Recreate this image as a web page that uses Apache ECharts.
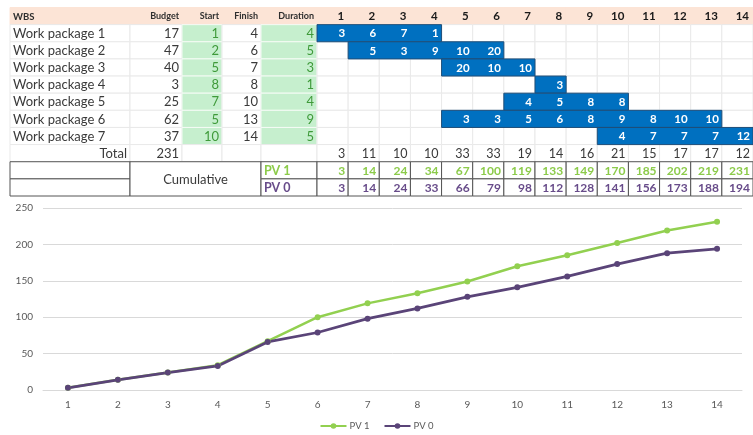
<!DOCTYPE html>
<html><head><meta charset="utf-8">
<script src="https://cdn.jsdelivr.net/npm/echarts@6/dist/echarts.min.js"></script>
<style>html,body{margin:0;padding:0;background:#fff}#c{width:753px;height:435px}</style>
</head><body><div id="c"></div>
<script>
// ---------- DATA ----------
const headerLabels = ['WBS', 'Budget', 'Start', 'Finish', 'Duration'];
const wbsNames = ['Work package 1', 'Work package 2', 'Work package 3', 'Work package 4', 'Work package 5', 'Work package 6', 'Work package 7'];
const budgets = [17, 47, 40, 3, 25, 62, 37];
const starts = [1, 2, 5, 8, 7, 5, 10];
const finishes = [4, 6, 7, 8, 10, 13, 14];
const durations = [4, 5, 3, 1, 4, 9, 5];
const budgetTotal = 231;
const periods = ['1', '2', '3', '4', '5', '6', '7', '8', '9', '10', '11', '12', '13', '14'];
const wpValues = [
  [3, 6, 7, 1],
  [5, 3, 9, 10, 20],
  [20, 10, 10],
  [3],
  [4, 5, 8, 8],
  [3, 3, 5, 6, 8, 9, 8, 10, 10],
  [4, 7, 7, 7, 12]
];
const periodTotals = [3, 11, 10, 10, 33, 33, 19, 14, 16, 21, 15, 17, 17, 12];
const pv1 = [3, 14, 24, 34, 67, 100, 119, 133, 149, 170, 185, 202, 219, 231];
const pv0 = [3, 14, 24, 33, 66, 79, 98, 112, 128, 141, 156, 173, 188, 194];
const cumulativeLabel = 'Cumulative';
const totalLabel = 'Total';
const seriesNames = ['PV 1', 'PV 0'];
const yTicks = { min: 0, max: 250, interval: 50 };

// ---------- LAYOUT / STYLE ----------
const FONT = 'Lato, "Liberation Sans", sans-serif';
const COL_EDGES = [0, 120, 172, 212, 251, 307]; // left table column boundaries (layout units)
const rowKeys = ['hdr', 'wp1', 'wp2', 'wp3', 'wp4', 'wp5', 'wp6', 'wp7', 'total', 'pv1', 'pv0'];
const C = {
  peach: '#FCE4D6', hdrText: '#2E2E2E', body: '#3A3A3A', grid: '#E9E9E9',
  greenBg: '#C6EFCE', greenText: '#3F9A3A', blue: '#0070C0', blueEdge: '#1F4E79',
  pv1: '#8CCB4A', pv0: '#684C8A', border: '#555555', line1: '#92D050', line0: '#5A4478', axis: '#595959'
};

// ---------- left table cells ----------
const leftCells = [];
headerLabels.forEach((h, c) => leftCells.push({ col: c, row: 0, text: h, k: 'hdr', align: c === 0 ? 'left' : 'right', size: c === 0 ? 9.5 : 9 }));
wbsNames.forEach((n, i) => {
  const r = i + 1;
  leftCells.push({ col: 0, row: r, text: n, k: 'body', align: 'left' });
  leftCells.push({ col: 1, row: r, text: String(budgets[i]), k: 'body', align: 'right' });
  leftCells.push({ col: 2, row: r, text: String(starts[i]), k: 'green', align: 'right' });
  leftCells.push({ col: 3, row: r, text: String(finishes[i]), k: 'body', align: 'right' });
  leftCells.push({ col: 4, row: r, text: String(durations[i]), k: 'green', align: 'right' });
});
leftCells.push({ col: 0, row: 8, text: totalLabel, k: 'body', align: 'right' });
leftCells.push({ col: 1, row: 8, text: String(budgetTotal), k: 'body', align: 'right' });
[2, 3, 4].forEach(c => leftCells.push({ col: c, row: 8, text: '', k: 'body' }));
leftCells.push({ col: 0, row: 9, text: '', k: 'box' });
leftCells.push({ col: 0, row: 10, text: '', k: 'box' });
leftCells.push({ col: 1, row: 9, span: 3, rs: 2, text: cumulativeLabel, k: 'box', align: 'center' });
leftCells.push({ col: 4, row: 9, text: seriesNames[0], k: 'box', align: 'left', color: C.pv1, bold: true, size: 12.5 });
leftCells.push({ col: 4, row: 10, text: seriesNames[1], k: 'box', align: 'left', color: C.pv0, bold: true, size: 12.5 });

function renderLeft(params, api) {
  const m = leftCells[params.dataIndex];
  const rh = api.size([0, 1])[1];
  const span = m.span || 1, rs = m.rs || 1;
  const yTop = api.coord([0, m.row])[1] - rh / 2;
  const x0 = api.coord([COL_EDGES[m.col], m.row])[0];
  const x1 = api.coord([COL_EDGES[m.col + span], m.row])[0];
  const h = rh * rs;
  let fill = '#fff', stroke = C.grid, z2 = 0;
  if (m.k === 'hdr') { fill = C.peach; stroke = C.peach; }
  if (m.k === 'green') { fill = C.greenBg; stroke = '#F4FBF5'; }
  if (m.k === 'box') { fill = '#fff'; stroke = C.border; z2 = 5; }
  const children = [{ type: 'rect', shape: { x: x0, y: yTop, width: x1 - x0, height: h }, style: { fill, stroke, lineWidth: 1 }, z2 }];
  if (m.text) {
    let tx = m.align === 'left' ? x0 + 3 : m.align === 'center' ? (x0 + x1) / 2 : x1 - 3;
    let color = m.color || (m.k === 'hdr' ? C.hdrText : m.k === 'green' ? C.greenText : C.body);
    children.push({ type: 'text', z2: 10, style: {
      x: tx, y: yTop + h / 2 + 0.5, text: m.text, fill: color,
      align: m.align || 'right', verticalAlign: 'middle',
      font: (m.k === 'hdr' || m.bold ? 'bold ' : '') + (m.size || 13) + 'px ' + FONT
    }});
  }
  return { type: 'group', children };
}

// ---------- gantt cells ----------
const ganttCells = [];
periods.forEach((p, i) => {
  ganttCells.push({ p: i, r: 0, k: 'hdr', text: p });
  for (let r = 1; r <= 8; r++) ganttCells.push({ p: i, r, k: 'bg', text: r === 8 ? String(periodTotals[i]) : '' });
  ganttCells.push({ p: i, r: 9, k: 'box', text: String(pv1[i]), color: C.pv1 });
  ganttCells.push({ p: i, r: 10, k: 'box', text: String(pv0[i]), color: C.pv0 });
});
wpValues.forEach((vals, w) => {
  ganttCells.push({ p: starts[w] - 1, r: w + 1, k: 'block', span: durations[w] });
  vals.forEach((v, j) => ganttCells.push({ p: starts[w] - 1 + j, r: w + 1, k: 'wtext', text: String(v) }));
});

function renderGantt(params, api) {
  const m = ganttCells[params.dataIndex];
  const bw = api.size([1, 0])[0], rh = api.size([0, 1])[1];
  const c = api.coord([m.p, m.r]);
  const yTop = c[1] - rh / 2;
  const x0 = c[0] - bw / 2;
  const children = [];
  if (m.k === 'block') {
    const xe = api.coord([m.p + m.span - 1, m.r])[0] + bw / 2;
    children.push({ type: 'rect', z2: 20, shape: { x: x0, y: yTop, width: xe - x0, height: rh }, style: { fill: C.blue, stroke: C.blueEdge, lineWidth: 1 } });
    return { type: 'group', children };
  }
  if (m.k === 'hdr') children.push({ type: 'rect', z2: 0, shape: { x: x0, y: yTop, width: bw, height: rh }, style: { fill: C.peach, stroke: C.peach } });
  if (m.k === 'bg') children.push({ type: 'rect', z2: 0, shape: { x: x0, y: yTop, width: bw, height: rh }, style: { fill: '#fff', stroke: C.grid } });
  if (m.k === 'box') children.push({ type: 'rect', z2: 5, shape: { x: x0, y: yTop, width: bw, height: rh }, style: { fill: '#fff', stroke: C.border } });
  if (m.text) {
    let font = '12.5px ' + FONT, fill = C.body, align = 'right', tx = x0 + bw - 3;
    if (m.k === 'hdr') { font = 'bold 11.5px ' + FONT; fill = '#1a1a1a'; tx = x0 + bw - 4; }
    if (m.k === 'box') { font = 'bold 12px ' + FONT; fill = m.color; }
    if (m.k === 'wtext') { font = 'bold 11.5px ' + FONT; fill = '#fff'; }
    children.push({ type: 'text', z2: 30, style: { x: tx, y: yTop + rh / 2 + 0.5, text: m.text, fill, font, align, verticalAlign: 'middle' } });
  }
  return { type: 'group', children };
}

const chart = echarts.init(document.getElementById('c'));
chart.setOption({
  animation: false,
  backgroundColor: '#fff',
  textStyle: { fontFamily: FONT },
  grid: [
    { left: 10, top: 7.5, width: 307, height: 188.5 },
    { left: 317, top: 7.5, width: 437, height: 188.5 },
    { left: 43, right: 11, top: 208, bottom: 45 }
  ],
  xAxis: [
    { gridIndex: 0, type: 'value', min: COL_EDGES[0], max: COL_EDGES[COL_EDGES.length - 1], show: false },
    { gridIndex: 1, type: 'category', data: periods, show: false },
    { gridIndex: 2, type: 'category', data: periods, boundaryGap: true,
      axisLine: { lineStyle: { color: '#D9D9D9' } }, axisTick: { show: false },
      axisLabel: { color: C.axis, fontSize: 10, margin: 10, fontFamily: FONT } }
  ],
  yAxis: [
    { gridIndex: 0, type: 'category', data: rowKeys, inverse: true, show: false },
    { gridIndex: 1, type: 'category', data: rowKeys, inverse: true, show: false },
    { gridIndex: 2, type: 'value', min: yTicks.min, max: yTicks.max, interval: yTicks.interval,
      axisLine: { show: false }, axisTick: { show: false },
      splitLine: { lineStyle: { color: '#D9D9D9' } },
      axisLabel: { color: C.axis, fontSize: 10, margin: 10, fontFamily: FONT } }
  ],
  legend: {
    bottom: -1, left: 'center', itemWidth: 26, itemHeight: 7, itemGap: 14,
    data: seriesNames, textStyle: { color: C.axis, fontSize: 9.5, fontFamily: FONT, padding: [0, 0, 0, -2] }
  },
  series: [
    { type: 'custom', xAxisIndex: 0, yAxisIndex: 0, silent: true, renderItem: renderLeft,
      data: leftCells.map(m => [COL_EDGES[m.col], m.row]) },
    { type: 'custom', xAxisIndex: 1, yAxisIndex: 1, silent: true, renderItem: renderGantt,
      data: ganttCells.map(m => [m.p, m.r]) },
    { name: seriesNames[0], type: 'line', xAxisIndex: 2, yAxisIndex: 2, data: pv1,
      symbol: 'circle', symbolSize: 6, lineStyle: { width: 2.5, color: C.line1 }, itemStyle: { color: C.line1 } },
    { name: seriesNames[1], type: 'line', xAxisIndex: 2, yAxisIndex: 2, data: pv0,
      symbol: 'circle', symbolSize: 6, lineStyle: { width: 2.75, color: C.line0 }, itemStyle: { color: C.line0 } }
  ]
});
</script></body></html>
